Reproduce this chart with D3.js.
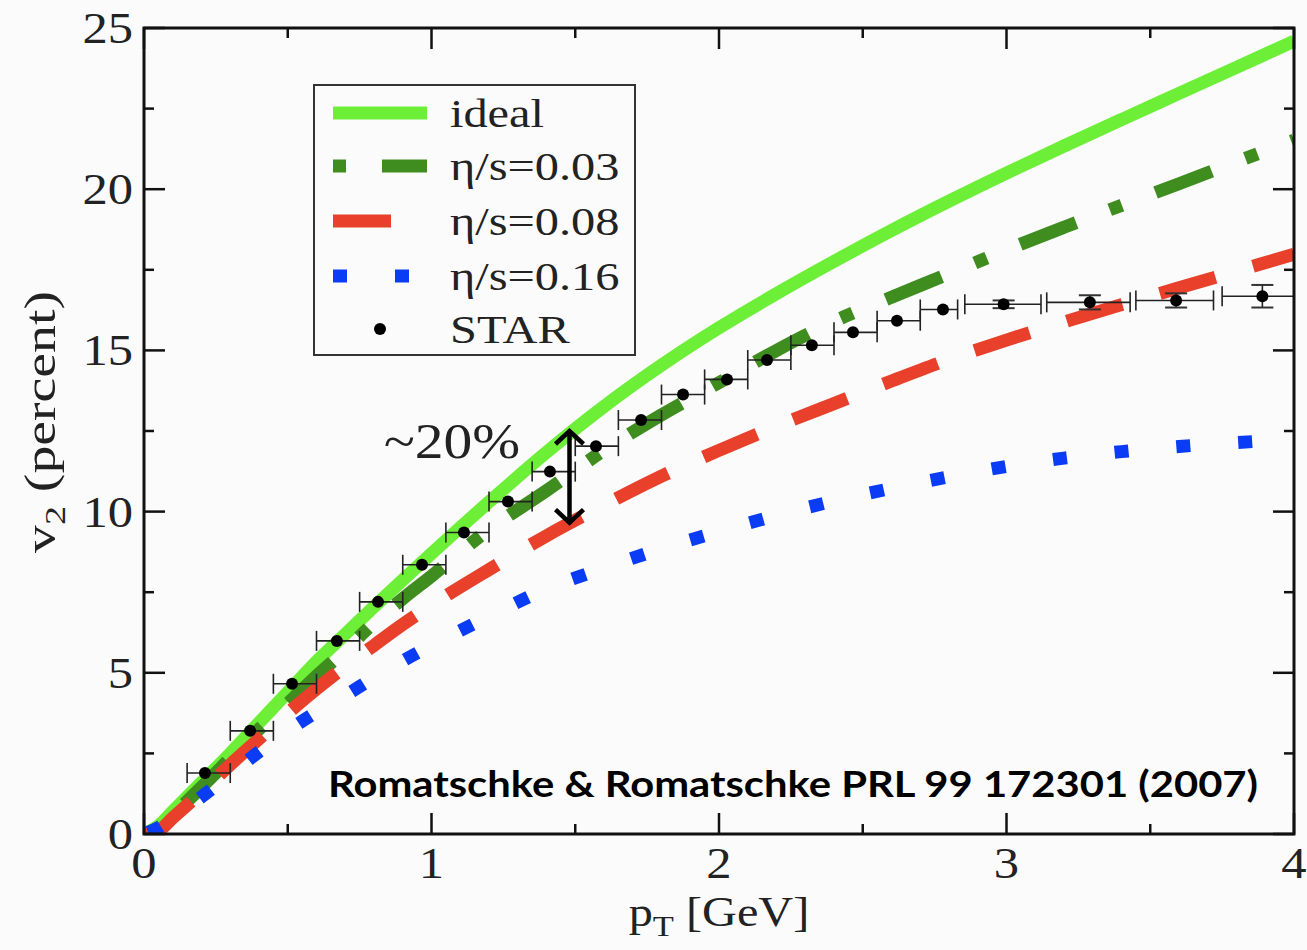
<!DOCTYPE html>
<html><head><meta charset="utf-8">
<script src="https://cdn.jsdelivr.net/npm/d3@7"></script>
<style>body{margin:0;background:#fbfbfb}</style>
</head><body><svg id="c" width="1307" height="950"></svg>
<script>
// ---------- data ----------
const pT = [0,0.05,0.1,0.2,0.3,0.4,0.5,0.6,0.7,0.8,0.9,1.0,1.2,1.4,1.6,1.8,2.0,2.2,2.4,2.6,2.8,3.0,3.2,3.4,3.6,3.8,4.0];
const v2Ideal = [0,0.25,0.7,1.6,2.5,3.45,4.4,5.35,6.2,7.05,7.88,8.7,10.3,11.84,13.26,14.54,15.7,16.76,17.76,18.72,19.63,20.5,21.34,22.16,22.97,23.78,24.59];
const v2Eta003 = [0,0.2,0.6,1.45,2.35,3.25,4.05,4.9,5.7,6.55,7.3,8.0,9.45,10.65,11.9,13.0,14.0,15.0,15.9,16.65,17.38,18.12,18.82,19.5,20.17,20.85,21.52];
const v2Eta008 = [0,0.1,0.5,1.3,2.15,2.95,3.75,4.5,5.2,5.85,6.5,7.1,8.2,9.25,10.2,11.1,11.9,12.65,13.35,14.05,14.72,15.32,15.88,16.42,16.94,17.46,17.98];
const v2Eta016 = [0,0.2,0.5,1.15,1.85,2.55,3.2,3.78,4.3,4.85,5.37,5.85,6.75,7.6,8.25,8.85,9.38,9.88,10.33,10.72,11.08,11.4,11.66,11.86,12.02,12.14,12.25];

const starPt  = [0.212,0.369,0.515,0.671,0.814,0.967,1.113,1.266,1.412,1.572,1.729,1.875,2.028,2.167,2.323,2.466,2.619,2.779,2.99,3.29,3.59,3.89];
const starV2  = [1.89,3.2,4.66,5.99,7.2,8.35,9.35,10.31,11.24,12.03,12.84,13.63,14.1,14.7,15.16,15.56,15.92,16.27,16.43,16.49,16.55,16.68];
const starBinLo = [0.15,0.3,0.45,0.6,0.75,0.9,1.05,1.2,1.35,1.5,1.65,1.8,1.95,2.1,2.25,2.4,2.55,2.7,2.855,3.14,3.45,3.75];
const starBinHi = [0.3,0.45,0.6,0.75,0.9,1.05,1.2,1.35,1.5,1.65,1.8,1.95,2.1,2.25,2.4,2.55,2.7,2.83,3.12,3.43,3.72,4.05];
const starErr = [0,0,0,0,0,0,0,0,0,0,0,0,0,0,0,0,0,0,0.12,0.22,0.22,0.35];

const xTicks = [0,1,2,3,4];
const yTicks = [0,5,10,15,20,25];
const legendLabels = ["ideal","η/s=0.03","η/s=0.08","η/s=0.16","STAR"];
const arrowPt = [1.48];
const arrowV2 = [12.5, 9.66];

// ---------- layout ----------
const svg = d3.select("#c");
const W = 1307, H = 950;
const L = 144, R = 1294, T = 28, B = 834;
const x = d3.scaleLinear().domain([0,4]).range([L,R]);
const y = d3.scaleLinear().domain([0,25]).range([B,T]);
const serif = "'Liberation Serif','Times New Roman',Times,serif";
svg.append("rect").attr("width",W).attr("height",H).attr("fill","#fbfbfb");

svg.append("defs").append("clipPath").attr("id","clip")
  .append("rect").attr("x",L).attr("y",T).attr("width",R-L).attr("height",B-T);

const plot = svg.append("g").attr("clip-path","url(#clip)");

const series = [
  {vals:v2Ideal, color:"#6cef36", dash:null},
  {vals:v2Eta003, color:"#3f8d1f", dash:[13,36,60,36], center:6.5, anchor:3.38},
  {vals:v2Eta008, color:"#e8402a", dash:[58,39], center:29, anchor:3.63},
  {vals:v2Eta016, color:"#0a3cf5", dash:[14,48], center:7, anchor:3.83}
];
const lineGen = d3.line().x((d,i)=>x(pT[i])).y(d=>y(d)).curve(d3.curveMonotoneX);

function lengthAtX(node, px){
  let lo=0, hi=node.getTotalLength();
  for(let k=0;k<40;k++){
    const mid=(lo+hi)/2;
    if(node.getPointAtLength(mid).x<px) lo=mid; else hi=mid;
  }
  return (lo+hi)/2;
}

series.forEach(s=>{
  const p = plot.append("path").datum(s.vals).attr("d",lineGen)
    .attr("fill","none").attr("stroke",s.color).attr("stroke-width",13)
    .attr("stroke-linecap","butt").attr("stroke-linejoin","round");
  if(s.dash){
    const len = lengthAtX(p.node(), x(s.anchor));
    p.attr("stroke-dasharray",s.dash.join(" ")).attr("stroke-dashoffset", s.center-len);
  }
});

// STAR data with error bars
const star = plot.append("g");
starPt.forEach((px,i)=>{
  const yy = y(starV2[i]);
  const x0 = x(starBinLo[i]), x1 = x(starBinHi[i]);
  star.append("line").attr("x1",x0).attr("x2",x1).attr("y1",yy).attr("y2",yy)
    .attr("stroke","#222").attr("stroke-width",1.6);
  [x0,x1].forEach(xc=>{
    star.append("line").attr("x1",xc).attr("x2",xc).attr("y1",yy-10).attr("y2",yy+10)
      .attr("stroke","#222").attr("stroke-width",1.6);
  });
  if(starErr[i]>0){
    const ya=y(starV2[i]+starErr[i]), yb=y(starV2[i]-starErr[i]), xc=x(px);
    star.append("line").attr("x1",xc).attr("x2",xc).attr("y1",ya).attr("y2",yb)
      .attr("stroke","#222").attr("stroke-width",1.6);
    [ya,yb].forEach(yv=>star.append("line").attr("x1",xc-11).attr("x2",xc+11)
      .attr("y1",yv).attr("y2",yv).attr("stroke","#333").attr("stroke-width",2));
  }
  star.append("circle").attr("cx",x(px)).attr("cy",yy).attr("r",6).attr("fill","#000");
});

// ---------- frame & ticks ----------
const ax = svg.append("g");
ax.append("rect").attr("x",L).attr("y",T).attr("width",R-L).attr("height",B-T)
  .attr("fill","none").attr("stroke","#111").attr("stroke-width",3);
const xMinor = d3.range(0.5,4,1), yMinor = d3.range(2.5,25,5);
function tk(x1,y1,x2,y2){ax.append("line").attr("x1",x1).attr("y1",y1).attr("x2",x2).attr("y2",y2).attr("stroke","#111").attr("stroke-width",2.5);}
xTicks.forEach(v=>{tk(x(v),B,x(v),B-21);tk(x(v),T,x(v),T+21);});
xMinor.forEach(v=>{tk(x(v),B,x(v),B-10);tk(x(v),T,x(v),T+10);});
yTicks.forEach(v=>{tk(L,y(v),L+21,y(v));tk(R,y(v),R-21,y(v));});
yMinor.forEach(v=>{tk(L,y(v),L+10,y(v));tk(R,y(v),R-10,y(v));});

function stext(g, str, px, py, size, anchor, sx){
  const t = g.append("g").attr("transform",`translate(${px},${py}) scale(${sx||1.15},1)`)
    .append("text").attr("font-family",serif).attr("font-size",size)
    .attr("text-anchor",anchor).attr("fill","#222").text(str);
  return t;
}
xTicks.forEach(v=>stext(ax, String(v), x(v), 878, 44, "middle"));
yTicks.forEach(v=>stext(ax, String(v), 133, y(v)+15, 44, "end"));

// axis titles
const xt = svg.append("g").attr("transform",`translate(${x(2)},926) scale(1.15,1)`)
  .append("text").attr("font-family",serif).attr("font-size",42).attr("text-anchor","middle").attr("fill","#222");
xt.append("tspan").text("p");
xt.append("tspan").attr("font-size",30).attr("dy",10).text("T");
xt.append("tspan").attr("dy",-10).text(" [GeV]");

const yt = svg.append("g").attr("transform",`translate(55,${422}) rotate(-90)`)
  .append("text").attr("font-family",serif).attr("font-size",44).attr("text-anchor","middle").attr("fill","#222")
  .attr("textLength",262).attr("lengthAdjust","spacingAndGlyphs");
yt.append("tspan").text("v");
yt.append("tspan").attr("font-size",30).attr("dy",10).text("2");
yt.append("tspan").attr("dy",-10).text(" (percent)");

// ---------- annotation ----------
const ann = svg.append("g");
const axp = x(arrowPt[0]), ay1 = y(arrowV2[0]), ay2 = y(arrowV2[1]);
ann.append("line").attr("x1",axp).attr("x2",axp).attr("y1",ay1+2).attr("y2",ay2-2)
  .attr("stroke","#000").attr("stroke-width",4.5);
ann.append("polyline").attr("points",`${axp-14},${ay1+13} ${axp},${ay1} ${axp+14},${ay1+13}`)
  .attr("fill","none").attr("stroke","#000").attr("stroke-width",4.5);
ann.append("polyline").attr("points",`${axp-14},${ay2-13} ${axp},${ay2} ${axp+14},${ay2-13}`)
  .attr("fill","none").attr("stroke","#000").attr("stroke-width",4.5);
stext(ann, "~20%", 452, 458, 50, "middle");

svg.append("text").attr("x",328).attr("y",797).attr("font-family","Lato,'Open Sans',sans-serif")
  .attr("font-weight","bold").attr("font-size",36).attr("fill","#000")
  .attr("textLength",930).attr("lengthAdjust","spacingAndGlyphs")
  .text("Romatschke & Romatschke PRL 99 172301 (2007)");

// ---------- legend ----------
const lg = svg.append("g");
lg.append("rect").attr("x",314).attr("y",85).attr("width",321).attr("height",270)
  .attr("fill","#fbfbfb").attr("stroke","#333").attr("stroke-width",2);
const rowY = [113,166,221,276,329];
series.forEach((s,i)=>{
  const l = lg.append("line").attr("x1",333).attr("x2",427).attr("y1",rowY[i]).attr("y2",rowY[i])
    .attr("stroke",s.color).attr("stroke-width",13);
  if(s.dash) l.attr("stroke-dasharray",s.dash.join(" "));
});
lg.append("circle").attr("cx",380).attr("cy",rowY[4]).attr("r",6).attr("fill","#000");
legendLabels.forEach((t,i)=>stext(lg, t, 450, rowY[i]+14, 41, "start", 1.18));
</script></body></html>
